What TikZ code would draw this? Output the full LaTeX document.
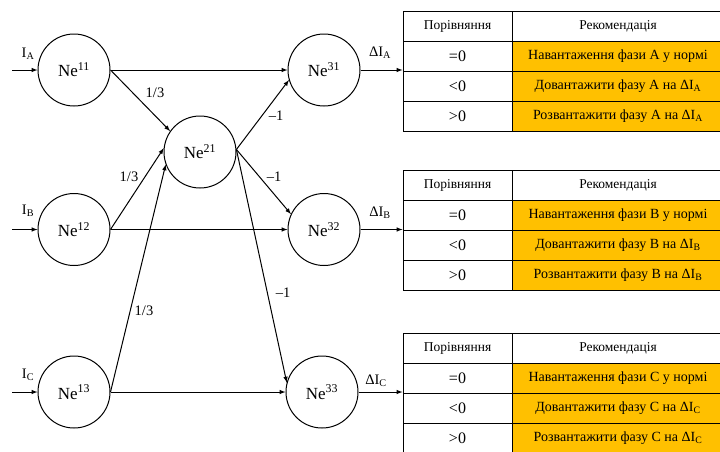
\documentclass[tikz,border=0pt]{standalone}
\usepackage{fontspec}
\setmainfont{Liberation Serif}
\usetikzlibrary{arrows}
\definecolor{recfill}{HTML}{FFC000}

\begin{document}
\begin{tikzpicture}[x = 1pt, y = -1pt, line width = 1pt]
\tikzstyle{NeuronStyle}=[shape = circle,
                         minimum size = 72pt,
                         inner sep = 0pt,
                         font = \fontsize{17}{19}\selectfont,
                         draw]
\tikzstyle{CellStyle}=[draw, minimum height = 30pt, inner sep = 0pt,
                       font = \fontsize{13.5}{15}\selectfont]
\tikzstyle{CmpCell}=[CellStyle, minimum width = 109pt]
\tikzstyle{ValCell}=[CmpCell, font = \fontsize{16}{18}\selectfont]
\tikzstyle{RecCell}=[CellStyle, minimum width = 212pt]
\tikzstyle{AdvCell}=[RecCell, fill = recfill, font = \fontsize{14}{16}\selectfont]
\tikzstyle{WeightStyle}=[inner sep = 0pt, font = \fontsize{14.5}{16}\selectfont]
\tikzstyle{post}=[-latex]
\clip (0,0) rectangle (720,451);
% neurons
\node[NeuronStyle] (n11) at (74,70) {Ne\textsuperscript{11}};
\node[NeuronStyle] (n12) at (74,229.5) {Ne\textsuperscript{12}};
\node[NeuronStyle] (n13) at (74,392) {Ne\textsuperscript{13}};
\node[NeuronStyle] (n21) at (200,152) {Ne\textsuperscript{21}};
\node[NeuronStyle] (n31) at (324,70) {Ne\textsuperscript{31}};
\node[NeuronStyle] (n32) at (324,229.5) {Ne\textsuperscript{32}};
\node[NeuronStyle] (n33) at (322,392) {Ne\textsuperscript{33}};
% inputs
\coordinate (inA) at (12,70);
\coordinate (inB) at (12,229.5);
\coordinate (inC) at (12,392);
\node[WeightStyle] (lA) at (28,54) {I\textsubscript{A}};
\node[WeightStyle] (lB) at (28,211) {I\textsubscript{B}};
\node[WeightStyle] (lC) at (28,375) {I\textsubscript{C}};
% table A
\node[CmpCell] (tAh) at (457.5,26) {Порівняння};
\node[RecCell] (rAh) at (618,26) {Рекомендація};
\node[ValCell] (tA1) at (457.5,56) {=0};
\node[AdvCell] (rA1) at (618,56) {Навантаження фази A у нормі};
\node[ValCell] (tA2) at (457.5,86) {<0};
\node[AdvCell] (rA2) at (618,86) {Довантажити фазу A на ΔI\textsubscript{A}};
\node[ValCell] (tA3) at (457.5,116) {>0};
\node[AdvCell] (rA3) at (618,116) {Розвантажити фазу A на ΔI\textsubscript{A}};
% table B
\node[CmpCell] (tBh) at (457.5,185) {Порівняння};
\node[RecCell] (rBh) at (618,185) {Рекомендація};
\node[ValCell] (tB1) at (457.5,215) {=0};
\node[AdvCell] (rB1) at (618,215) {Навантаження фази B у нормі};
\node[ValCell] (tB2) at (457.5,245) {<0};
\node[AdvCell] (rB2) at (618,245) {Довантажити фазу B на ΔI\textsubscript{B}};
\node[ValCell] (tB3) at (457.5,275) {>0};
\node[AdvCell] (rB3) at (618,275) {Розвантажити фазу B на ΔI\textsubscript{B}};
% table C
\node[CmpCell] (tCh) at (457.5,348) {Порівняння};
\node[RecCell] (rCh) at (618,348) {Рекомендація};
\node[ValCell] (tC1) at (457.5,378) {=0};
\node[AdvCell] (rC1) at (618,378) {Навантаження фази C у нормі};
\node[ValCell] (tC2) at (457.5,408) {<0};
\node[AdvCell] (rC2) at (618,408) {Довантажити фазу C на ΔI\textsubscript{C}};
\node[ValCell] (tC3) at (457.5,438) {>0};
\node[AdvCell] (rC3) at (618,438) {Розвантажити фазу C на ΔI\textsubscript{C}};
% weights
\node[WeightStyle] (w1) at (155,93) {1/3};
\node[WeightStyle] (w2) at (129,177) {1/3};
\node[WeightStyle] (w3) at (144,311) {1/3};
\node[WeightStyle] (m1) at (276,116) {–1};
\node[WeightStyle] (m2) at (274,177) {–1};
\node[WeightStyle] (m3) at (283,293) {–1};
\node[WeightStyle] (dA) at (380,53) {ΔI\textsubscript{A}};
\node[WeightStyle] (dB) at (380,213) {ΔI\textsubscript{B}};
\node[WeightStyle] (dC) at (376,381) {ΔI\textsubscript{C}};
% connections
\draw[post] (inA) -- (n11.west);
\draw[post] (inB) -- (n12.west);
\draw[post] (inC) -- (n13.west);
\draw[post] (n11.east) -- (n31.west);
\draw[post] (n12.east) -- (n32.west);
\draw[post] (n13.east) -- (n33.west);
\draw[post] (n11.east) -- (n21.145);
\draw[post] (n12.east) -- (n21.174);
\draw[post] (n13.east) -- (n21.200);
\draw[post] (n21.4) -- (n31.196);
\draw[post] (n21.4) -- (n32.155);
\draw[post] (n21.4) -- (n33.165);
\draw[post] (n31.east) -- (n31.east -| tA1.west);
\draw[post] (n32.east) -- (n32.east -| tB1.west);
\draw[post] (n33.east) -- (n33.east -| tC1.west);
\end{tikzpicture}
\end{document}
